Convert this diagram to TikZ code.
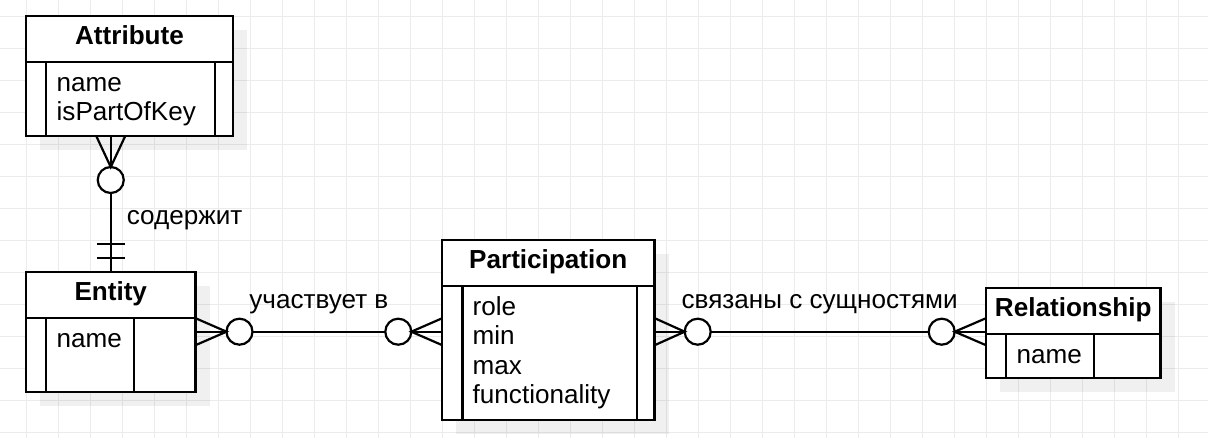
\documentclass[tikz,border=0pt]{standalone}
\usepackage{fontspec}
\setmainfont{Liberation Sans}
\usetikzlibrary{positioning,shadows}
\definecolor{gridgray}{HTML}{EBEBEB}
\newcommand\erfont{\fontsize{26.1}{29.4}\selectfont}

\begin{document}
\begin{tikzpicture}[x=1pt,y=-1pt]
\tikzset{
  gridline/.style={draw=gridgray,line width=1pt},
  ershadow/.style={drop shadow={shadow xshift=14pt,shadow yshift=-14pt,fill=black,opacity=0.06}},
  erhead/.style={draw=black,line width=2.2pt,fill=white,ershadow,anchor=north west,inner sep=0pt,outer sep=0pt,minimum height=46pt,text height=18pt,text depth=6pt,font=\erfont\bfseries},
  erbody/.style={draw=black,line width=2.2pt,fill=white,ershadow,inner sep=0pt,outer sep=0pt},
  erfield/.style={anchor=base west,align=left,inner sep=0pt,font=\erfont},
  erline/.style={draw=black,line width=2.2pt},
  ercirc/.style={circle,draw=black,line width=2.2pt,fill=white,minimum size=26pt,inner sep=0pt,outer sep=0pt},
  erlabel/.style={inner sep=0pt,font=\erfont}
}
\useasboundingbox (0,0) rectangle (1208,438);
% background grid
\foreach \gx in {0,...,36} \draw[gridline] (26.3+32*\gx,0) -- (26.3+32*\gx,438);
\foreach \gy in {0,...,13} \draw[gridline] (0,16.3+32*\gy) -- (1208,16.3+32*\gy);

% tables
\node[erhead,minimum width=207pt] (n_attr) at (26,16) {Attribute};
\node[erbody,minimum width=207pt,minimum height=74pt,below=0pt of n_attr] (n_attr_b) {};
\draw[erline] ([xshift=20pt]n_attr_b.north west) -- ([xshift=20pt]n_attr_b.south west);
\draw[erline] ([xshift=-18pt]n_attr_b.north east) -- ([xshift=-18pt]n_attr_b.south east);
\node[erfield] (n_attr_f) at ([shift={(30.5,58.9)}]n_attr_b.north west) {name\\isPartOfKey};

\node[erhead,minimum width=169.5pt] (n_ent) at (26,272) {Entity};
\node[erbody,minimum width=169.5pt,minimum height=74pt,below=0pt of n_ent] (n_ent_b) {};
\draw[erline] ([xshift=20pt]n_ent_b.north west) -- ([xshift=20pt]n_ent_b.south west);
\draw[erline] ([xshift=-61.5pt]n_ent_b.north east) -- ([xshift=-61.5pt]n_ent_b.south east);
\node[erfield] (n_ent_f) at ([shift={(30.5,30)}]n_ent_b.north west) {name};

\node[erhead,minimum width=212.5pt] (n_part) at (442,240) {Participation};
\node[erbody,minimum width=212.5pt,minimum height=134pt,below=0pt of n_part] (n_part_b) {};
\draw[erline] ([xshift=20.5pt]n_part_b.north west) -- ([xshift=20.5pt]n_part_b.south west);
\draw[erline] ([xshift=-17.5pt]n_part_b.north east) -- ([xshift=-17.5pt]n_part_b.south east);
\node[erfield] (n_part_f) at ([shift={(30.5,117.7)}]n_part_b.north west) {role\\min\\max\\functionality};

\node[erhead,minimum width=174.5pt] (n_rel) at (986,288) {Relationship};
\node[erbody,minimum width=174.5pt,minimum height=44pt,below=0pt of n_rel] (n_rel_b) {};
\draw[erline] ([xshift=20pt]n_rel_b.north west) -- ([xshift=20pt]n_rel_b.south west);
\draw[erline] ([xshift=-66.5pt]n_rel_b.north east) -- ([xshift=-66.5pt]n_rel_b.south east);
\node[erfield] (n_rel_f) at ([shift={(30.5,29.5)}]n_rel_b.north west) {name};

% Attribute -- Entity
\node[ercirc,above=79pt of n_ent] (n_c0) {};
\draw[erline] (n_c0) -- node[erlabel,anchor=base west,xshift=15pt,yshift=8pt] (l_cont) {содержит} (n_ent);
\draw[erline] (n_c0.north) -- (n_c0 |- n_attr_b.south);
\draw[erline] ([shift={(-14.5,-31)}]n_c0.north) -- (n_c0.north) -- ([shift={(14.5,-31)}]n_c0.north);
\draw[erline] ([shift={(-14,-14)}]n_ent.north) -- ++(28,0);
\draw[erline] ([shift={(-14,-28)}]n_ent.north) -- ++(28,0);

% Entity -- Participation
\node[ercirc] (n_c1) at (239.5,331.7) {};
\node[ercirc] (n_c2) at (398.3,331.7) {};
\draw[erline] (n_c1) -- node[erlabel,anchor=base,yshift=23.2pt] (l_part) {участвует в} (n_c2);
\draw[erline] (n_c1.west) -- (n_c1 -| n_ent_b.east);
\draw[erline] ([shift={(-31,-13.5)}]n_c1.west) -- (n_c1.west) -- ([shift={(-31,13.5)}]n_c1.west);
\draw[erline] (n_c2.east) -- (n_c2 -| n_part_b.west);
\draw[erline] ([shift={(31,-13.5)}]n_c2.east) -- (n_c2.east) -- ([shift={(31,13.5)}]n_c2.east);

% Participation -- Relationship
\node[ercirc] (n_c3) at (697.7,331.7) {};
\node[ercirc] (n_c4) at (941.7,331.7) {};
\draw[erline] (n_c3) -- node[erlabel,anchor=base,yshift=23.2pt] (l_rel) {связаны с сущностями} (n_c4);
\draw[erline] (n_c3.west) -- (n_c3 -| n_part_b.east);
\draw[erline] ([shift={(-30,-13.5)}]n_c3.west) -- (n_c3.west) -- ([shift={(-30,13.5)}]n_c3.west);
\draw[erline] (n_c4.east) -- (n_c4 -| n_rel_b.west);
\draw[erline] ([shift={(31.3,-13.5)}]n_c4.east) -- (n_c4.east) -- ([shift={(31.3,13.5)}]n_c4.east);
\end{tikzpicture}
\end{document}
